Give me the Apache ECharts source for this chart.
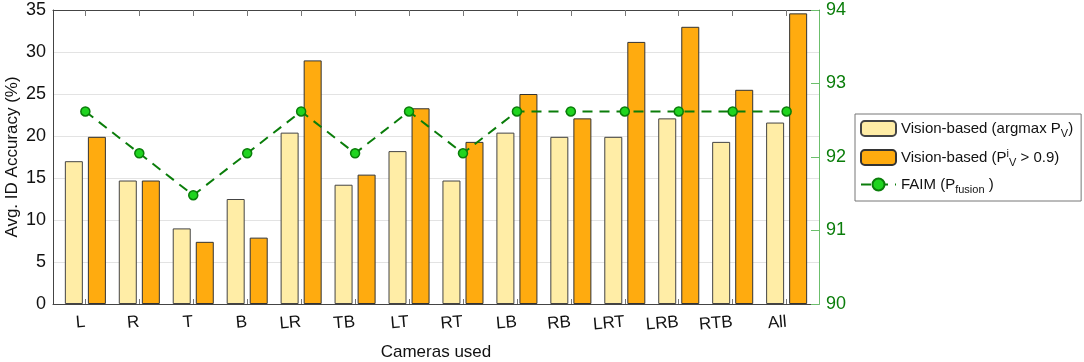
<!DOCTYPE html>
<html>
<head>
<meta charset="utf-8">
<script src="https://cdn.jsdelivr.net/npm/echarts@6/dist/echarts.min.js"></script>
<style>
  html, body { margin: 0; padding: 0; background: #fff; }
  #chart { width: 1084px; height: 362px; }
</style>
</head>
<body>
<div id="chart"></div>
<script>
// cameras on the x axis
const cameras = ["L", "R", "T", "B", "LR", "TB", "LT", "RT", "LB", "RB", "LRT", "LRB", "RTB", "All"];
// vision-based, argmax P_V (%)
const argmaxAcc = [17.0, 14.7, 9.0, 12.5, 20.4, 14.2, 18.2, 14.7, 20.4, 19.9, 19.9, 22.1, 19.3, 21.6];
// vision-based, P^i_V > 0.9 (%)
const threshAcc = [19.9, 14.7, 7.4, 7.9, 29.0, 15.4, 23.3, 19.3, 25.0, 22.1, 31.2, 33.0, 25.5, 34.6];
// FAIM P_fusion (right axis, %)
const fusionAcc = [92.62, 92.05, 91.48, 92.05, 92.62, 92.05, 92.62, 92.05, 92.62, 92.62, 92.62, 92.62, 92.62, 92.62];

const positions = cameras.map((c, i) => i + 1);
const withPos = arr => arr.map((v, i) => [i + 1, v]);

const font = "Liberation Sans, Arial, sans-serif";
const green = "#0a7d0a";

const legendNames = {
    argmax: "Vision-based (argmax P{sub|V})",
    thresh: "Vision-based (P{sup|i}{sub|V} > 0.9)",
    faim: "FAIM (P{sub|fusion} )"
};

const chart = echarts.init(document.getElementById("chart"));

const option = {
    backgroundColor: "#fff",
    animation: false,
    textStyle: { fontFamily: font },
    grid: { left: 53, right: 265, top: 10, bottom: 58, outerBoundsMode: "none", containLabel: false },
    legend: {
        orient: "vertical",
        left: 855,
        top: 114,
        padding: [6, 8, 6, 5],
        itemGap: 9,
        itemWidth: 35,
        itemHeight: 15,
        borderColor: "#777",
        borderWidth: 1,
        backgroundColor: "#fff",
        data: ["argmax", "thresh", "faim"],
        formatter: name => legendNames[name],
        textStyle: {
            fontFamily: font,
            fontSize: 15,
            color: "#111",
            rich: {
                sub: { fontSize: 11, fontFamily: font, color: "#111", padding: [10, 0, 0, 0] },
                sup: { fontSize: 11, fontFamily: font, color: "#111", padding: [0, 0, 8, 0] }
            }
        }
    },
    xAxis: [
        {
            type: "value",
            min: 0.4,
            max: 14.6,
            position: "bottom",
            name: "Cameras used",
            nameLocation: "middle",
            nameGap: 40,
            nameMoveOverlap: false,
            nameTextStyle: { fontSize: 17, color: "#111", fontFamily: font },
            axisLine: { show: true, lineStyle: { color: "#444", width: 1 } },
            axisTick: {
                show: true,
                inside: true,
                length: 5,
                customValues: positions,
                lineStyle: { color: "#777" }
            },
            axisLabel: {
                customValues: positions,
                formatter: v => cameras[Math.round(v) - 1] || "",
                rotate: 5,
                fontSize: 17,
                color: "#111",
                margin: 18
            },
            splitLine: { show: false }
        },
        {
            type: "value",
            min: 0.4,
            max: 14.6,
            position: "top",
            axisLine: { show: true, lineStyle: { color: "#444", width: 1 } },
            axisTick: {
                show: true,
                inside: true,
                length: 6,
                customValues: positions,
                lineStyle: { color: "#777" }
            },
            axisLabel: { show: false },
            splitLine: { show: false }
        }
    ],
    yAxis: [
        {
            type: "value",
            min: 0,
            max: 35,
            interval: 5,
            position: "left",
            name: "Avg. ID Accuracy (%)",
            nameLocation: "middle",
            nameGap: 32,
            nameMoveOverlap: false,
            nameTextStyle: { fontSize: 17, color: "#111", fontFamily: font },
            axisLine: { show: true, lineStyle: { color: "#444" } },
            axisTick: { show: false },
            axisLabel: { fontSize: 18, color: "#111", margin: 7 },
            splitLine: { show: true, lineStyle: { color: "#e3e3e3", width: 1 } }
        },
        {
            type: "value",
            min: 90,
            max: 94,
            interval: 1,
            position: "right",
            axisLine: { show: true, lineStyle: { color: "#6cbf6c" } },
            axisTick: { show: true, inside: true, length: 8, lineStyle: { color: "#6cbf6c" } },
            axisLabel: { fontSize: 18, color: green, margin: 7 },
            splitLine: { show: false }
        }
    ],
    series: [
        {
            name: "argmax",
            type: "bar",
            data: withPos(argmaxAcc),
            barWidth: 18,
            barGap: "28%",
            itemStyle: { color: "#ffeda6", borderColor: "#444", borderWidth: 1 }
        },
        {
            name: "thresh",
            type: "bar",
            data: withPos(threshAcc),
            barWidth: 18,
            barGap: "28%",
            itemStyle: { color: "#ffab0f", borderColor: "#333", borderWidth: 1 }
        },
        {
            name: "faim",
            type: "line",
            yAxisIndex: 1,
            data: withPos(fusionAcc),
            symbol: "circle",
            symbolSize: 9,
            lineStyle: { color: green, width: 2, type: [10, 7] },
            itemStyle: { color: "#1fd41f", borderColor: green, borderWidth: 1.5 },
            z: 5
        }
    ]
};

chart.setOption(option);
</script>
</body>
</html>
